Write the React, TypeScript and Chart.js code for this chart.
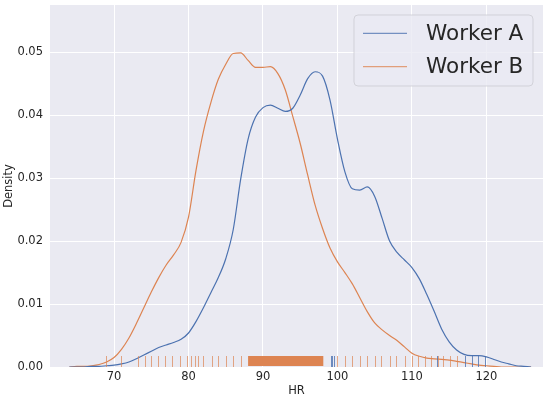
import React, { useEffect, useRef } from "react";
import { Chart, registerables } from "chart.js";

Chart.register(...registerables);

// HR grid on which the density curves are read
const hrGrid = [
  64, 65, 66, 67, 68, 69, 70, 71, 72, 73, 74, 75, 76, 77, 78, 79, 80, 81, 82, 83,
  84, 85, 86, 87, 88, 89, 90, 91, 92, 93, 94, 95, 96, 97, 98, 99, 100, 101, 102, 103,
  104, 105, 106, 107, 108, 109, 110, 111, 112, 113, 114, 115, 116, 117, 118, 119, 120,
  121, 122, 123, 124, 125, 126,
];

const workerADensity = [
  0.0, 0.0, 0.0, 0.0001, 0.0001, 0.0002, 0.0003, 0.0005, 0.0008, 0.0013, 0.0019, 0.0025,
  0.0031, 0.0035, 0.0039, 0.0044, 0.0054, 0.0072, 0.0094, 0.0118, 0.0142, 0.0172, 0.0218,
  0.0298, 0.0362, 0.0397, 0.0412, 0.0416, 0.0411, 0.0406, 0.0411, 0.0432, 0.0458, 0.0469,
  0.0462, 0.0424, 0.0362, 0.031, 0.0283, 0.0281, 0.0286, 0.0271, 0.0236, 0.02, 0.0182,
  0.017, 0.0158, 0.014, 0.0115, 0.0088, 0.006, 0.004, 0.0027, 0.002, 0.0018, 0.0018,
  0.0016, 0.0012, 0.0008, 0.0005, 0.0002, 0.0001, 0.0,
];

const workerBDensity = [
  0.0, 0.0001, 0.0001, 0.0002, 0.0004, 0.0008, 0.0015, 0.0028, 0.0046, 0.0069, 0.0094,
  0.0119, 0.0142, 0.0162, 0.0178, 0.0198, 0.0238, 0.0312, 0.0374, 0.042, 0.0457, 0.0481,
  0.0498, 0.0499, 0.0487, 0.0476, 0.0476, 0.0477, 0.0466, 0.044, 0.0398, 0.0355, 0.0305,
  0.0257, 0.022, 0.0189, 0.0167, 0.015, 0.0132, 0.011, 0.0088, 0.007, 0.0059, 0.005,
  0.0042, 0.0032, 0.0022, 0.0017, 0.0014, 0.0013, 0.0012, 0.0011, 0.0009, 0.0007, 0.0005,
  0.0003, 0.0002, 0.0001, 0.0, 0.0, 0.0, 0.0, 0.0,
];

// rug marks (observations)
const workerARug = [99.1, 99.3, 99.6, 113.3, 117.1, 118.0, 118.9, 119.8];
const workerBRug = [
  68.9, 71.0, 73.2, 74.1, 75.0, 75.9, 76.8, 77.8, 78.9, 79.8, 80.4, 80.9, 81.3, 82.0,
  83.1, 84.0, 85.0, 86.0, 87.0, 100.0, 101.0, 102.0, 103.0, 103.9, 105.0, 105.9, 107.0,
  107.9, 109.1, 110.0, 110.8, 111.7, 112.6, 113.5, 114.2, 115.1, 116.0,
];
// range of HR densely covered by Worker B observations
const workerBDenseRange = [88.0, 98.1];

const seriesNames = ["Worker A", "Worker B"];
const xTitle = "HR";
const yTitle = "Density";

const BLUE = "#4c72b0";
const ORANGE = "#dd8452";
const TEXT = "#262626";
const FONT = "'DejaVu Sans', sans-serif";

const bgPlugin = {
  id: "bg",
  beforeDraw(chart: any) {
    const { ctx, chartArea } = chart;
    ctx.save();
    ctx.fillStyle = "#ffffff";
    ctx.fillRect(0, 0, chart.width, chart.height);
    ctx.fillStyle = "#eaeaf2";
    ctx.fillRect(chartArea.left, chartArea.top, chartArea.width, chartArea.height);
    ctx.restore();
  },
};

const rugPlugin = {
  id: "rug",
  afterDatasetsDraw(chart: any) {
    const { ctx, chartArea, scales } = chart;
    const xs = scales.x;
    const bottom = chartArea.bottom;
    const h = 11;
    ctx.save();
    ctx.beginPath();
    ctx.rect(chartArea.left, chartArea.top, chartArea.width, chartArea.height);
    ctx.clip();
    ctx.lineWidth = 1;
    const draw = (vals: number[], color: string) => {
      ctx.strokeStyle = color;
      ctx.beginPath();
      vals.forEach((v) => {
        const px = Math.round(xs.getPixelForValue(v)) + 0.5;
        ctx.moveTo(px, bottom);
        ctx.lineTo(px, bottom - h);
      });
      ctx.stroke();
    };
    draw(workerARug, "rgba(76,114,176,0.8)");
    draw(workerBRug, "rgba(221,132,82,0.7)");
    const x0 = xs.getPixelForValue(workerBDenseRange[0]);
    const x1 = xs.getPixelForValue(workerBDenseRange[1]);
    ctx.fillStyle = ORANGE;
    ctx.fillRect(x0, bottom - h, x1 - x0, h - 1);
    ctx.restore();
  },
};

const legendPlugin = {
  id: "boxLegend",
  afterDraw(chart: any) {
    const { ctx, chartArea } = chart;
    const w = 179;
    const h = 71;
    const right = chartArea.right - 10;
    const top = chartArea.top + 10;
    const left = right - w;
    const r = 4;
    ctx.save();
    ctx.beginPath();
    ctx.moveTo(left + r, top);
    ctx.lineTo(right - r, top);
    ctx.quadraticCurveTo(right, top, right, top + r);
    ctx.lineTo(right, top + h - r);
    ctx.quadraticCurveTo(right, top + h, right - r, top + h);
    ctx.lineTo(left + r, top + h);
    ctx.quadraticCurveTo(left, top + h, left, top + h - r);
    ctx.lineTo(left, top + r);
    ctx.quadraticCurveTo(left, top, left + r, top);
    ctx.closePath();
    ctx.fillStyle = "rgba(234,234,242,0.8)";
    ctx.fill();
    ctx.strokeStyle = "rgba(204,204,210,0.8)";
    ctx.lineWidth = 1;
    ctx.stroke();
    chart.data.datasets.forEach((ds: any, i: number) => {
      const y = top + 18.3 + i * 33.4;
      ctx.strokeStyle = ds.borderColor;
      ctx.globalAlpha = 0.75;
      ctx.lineWidth = 1.3;
      ctx.beginPath();
      ctx.moveTo(left + 9, y);
      ctx.lineTo(left + 53, y);
      ctx.stroke();
      ctx.globalAlpha = 1;
      ctx.fillStyle = TEXT;
      ctx.font = `21.5px ${FONT}`;
      ctx.textBaseline = "middle";
      ctx.textAlign = "left";
      ctx.fillText(ds.label, left + 72, y + 1);
    });
    ctx.restore();
  },
};

export default function App() {
  const canvasRef = useRef<HTMLCanvasElement | null>(null);

  useEffect(() => {
    const canvas = canvasRef.current;
    if (!canvas) return;
    const tickFont = { family: FONT, size: 11.5 };
    const chart = new Chart(canvas, {
      type: "line",
      data: {
        datasets: [
          {
            label: seriesNames[0],
            data: hrGrid.map((x, i) => ({ x, y: workerADensity[i] })),
            borderColor: BLUE,
            borderWidth: 1.2,
            pointRadius: 0,
            fill: false,
            cubicInterpolationMode: "monotone",
          },
          {
            label: seriesNames[1],
            data: hrGrid.map((x, i) => ({ x, y: workerBDensity[i] })),
            borderColor: ORANGE,
            borderWidth: 1.2,
            pointRadius: 0,
            fill: false,
            cubicInterpolationMode: "monotone",
          },
        ],
      },
      options: {
        animation: false,
        responsive: false,
        devicePixelRatio: 1,
        layout: { padding: { top: 5, right: 7, left: 0, bottom: 0 } },
        plugins: {
          legend: { display: false },
          tooltip: { enabled: false },
        },
        scales: {
          x: {
            type: "linear",
            min: 61.4,
            max: 127.6,
            ticks: {
              stepSize: 10,
              includeBounds: false,
              padding: 3,
              color: TEXT,
              font: tickFont,
            },
            grid: { color: "#ffffff", lineWidth: 1, drawTicks: false },
            border: { display: false },
            title: {
              display: true,
              text: xTitle,
              color: TEXT,
              font: tickFont,
              padding: { top: 0, bottom: 2 },
            },
            afterFit: (s: any) => {
              s.height = 33;
              s.paddingLeft = 0;
              s.paddingRight = 0;
            },
          },
          y: {
            type: "linear",
            min: 0,
            max: 0.0575,
            ticks: {
              stepSize: 0.01,
              includeBounds: false,
              padding: 7,
              color: TEXT,
              font: tickFont,
              callback: (v: any) => Number(v).toFixed(2),
            },
            grid: { color: "#ffffff", lineWidth: 1, drawTicks: false },
            border: { display: false },
            title: {
              display: true,
              text: yTitle,
              color: TEXT,
              font: tickFont,
              padding: { top: 2, bottom: 0 },
            },
            afterFit: (s: any) => {
              s.width = 50;
              s.paddingTop = 0;
              s.paddingBottom = 0;
            },
          },
        },
      } as any,
      plugins: [bgPlugin, rugPlugin, legendPlugin],
    });
    return () => chart.destroy();
  }, []);

  return (
    <div style={{ position: "fixed", left: 0, top: 0, width: 550, height: 400 }}>
      <canvas ref={canvasRef} width={550} height={400} />
    </div>
  );
}
